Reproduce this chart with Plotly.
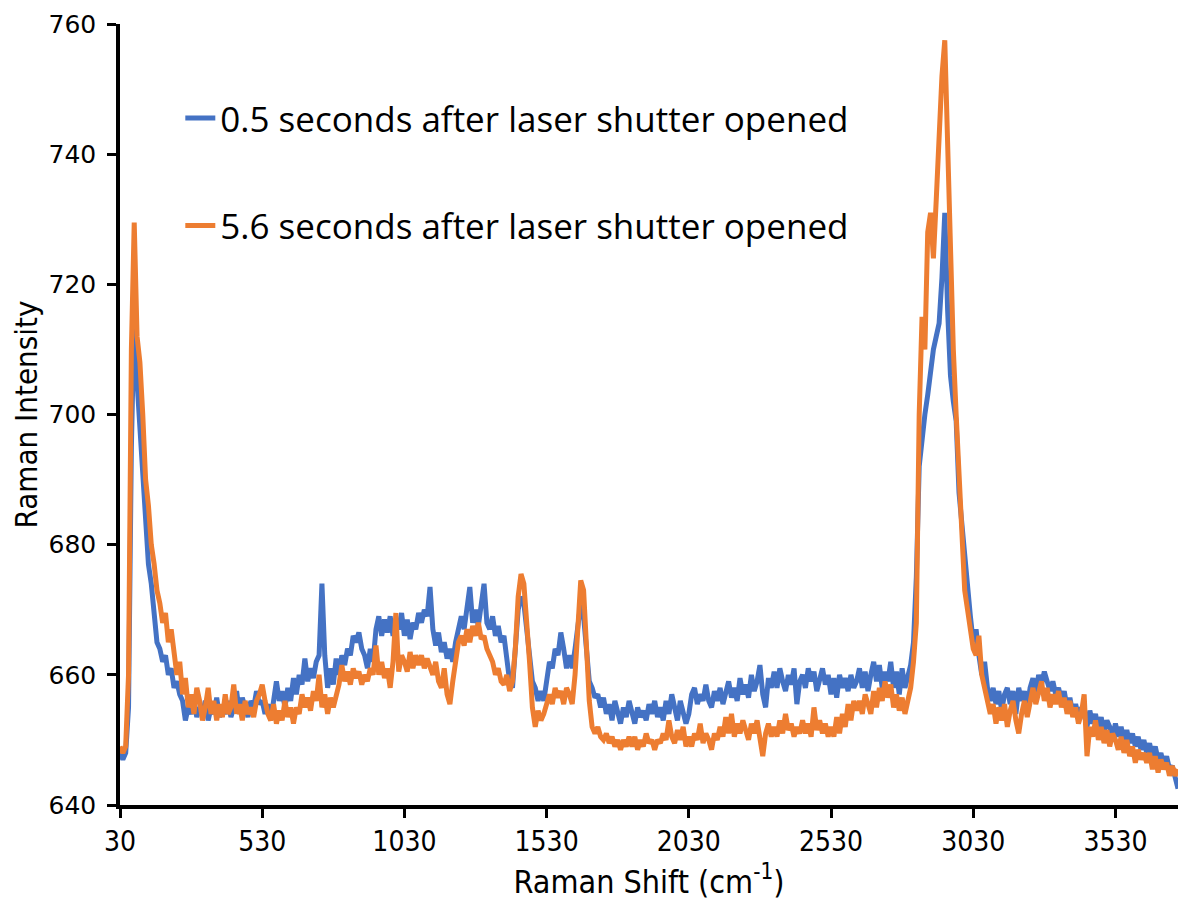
import plotly.graph_objects as go

# Raman shift sampling grid (cm-1)
raman_shift = list(range(30, 3751, 10))

# 0.5 s after laser shutter opened
blue_intensity = [
    648, 647, 648, 655, 695, 715.5, 705, 698, 690, 684,
    677, 674, 669, 665, 664, 662, 663, 660, 661, 658,
    659, 657, 656, 653, 655, 654, 656, 653.5, 655, 654,
    656, 653, 655, 654, 656.5, 653.5, 655, 654, 656, 653.5,
    655, 657.5, 654, 656.5, 655, 653.5, 656, 655, 657.5, 655.5,
    656, 654, 655.5, 653, 656, 659, 656, 657.5, 655, 658,
    656, 659.5, 657, 660, 658.5, 662.5, 659, 661, 659.5, 662,
    663, 674, 663, 658, 661, 658.5, 662.5, 660, 663, 661.5,
    664, 663, 666, 665, 666.5, 664, 663, 661, 664, 662,
    667, 669, 666, 668.5, 666.5, 669, 666, 668, 667, 669.5,
    666, 668.5, 665.5, 668, 667, 669.5, 668, 670, 669, 673.5,
    667, 664.5, 666.5, 663.5, 665, 662.5, 664, 662, 665, 667,
    669, 667, 671, 673.5, 668, 670, 667.5, 671, 674, 668,
    667, 669, 666, 667.5, 665, 666, 662, 659, 658, 663,
    670, 672, 671, 667, 662, 659, 658, 656, 657.5, 656,
    659, 662, 661, 664, 663, 666.5, 664, 661, 663, 661,
    664, 668, 671, 669, 663, 659, 658, 656.5, 657, 655,
    656.5, 654, 655.5, 653, 656, 654, 652.5, 655, 653.5, 656,
    654, 652.5, 655, 653.5, 654.5, 653, 655.5, 654, 656, 653.5,
    655, 653, 656, 654, 657, 655, 653, 656, 654.5, 652.5,
    654, 657, 658, 655.5, 657, 656, 658.5, 656, 655, 657.5,
    656, 658, 655.5, 657, 659, 656.5, 658, 656, 659.5, 657,
    658.5, 656.5, 660, 657.5, 659, 661.5, 657, 655, 659.5, 658,
    660.5, 658, 661, 659, 657.5, 660, 658.5, 661, 655.5, 659,
    660, 658, 661, 659, 660.5, 657.5, 659, 661, 658.5, 660,
    657, 659.5, 656.5, 660, 658, 659.5, 657.5, 660, 658, 659,
    661, 658, 660.5, 657.5, 660, 662, 659, 661.5, 658, 660.5,
    659, 662, 658, 660.5, 657, 661, 658, 660, 661.5, 665,
    675, 692, 697, 700, 703, 707, 710, 712, 714, 721,
    731, 716, 706, 702, 699, 688, 683, 678, 672, 669,
    665, 667, 663, 660, 662, 658, 656, 658, 655.5, 657.5,
    654.5, 657, 658, 655.5, 657.5, 654, 658, 656, 657.5, 655,
    658, 659.5, 657, 660, 658.5, 660.5, 659, 657.5, 659, 657,
    658, 656, 657.5, 655, 656.5, 654, 655.5, 653.5, 655, 654,
    652, 654.5, 652.5, 654, 651.5, 653.5, 651, 653, 652, 650.5,
    652.5, 650.5, 652, 650, 651.5, 649.5, 651, 649, 650.5, 648.5,
    650, 648, 649.5, 647.5, 649, 647, 648, 646, 647.5, 645.5,
    646, 644, 642.5,
]

# 5.6 s after laser shutter opened
orange_intensity = [
    649, 648, 649, 660, 710, 729.5, 712, 708, 700, 690,
    686, 680, 677, 673, 671, 668, 669.5, 665, 667, 663,
    660, 662, 657, 659.5, 655, 657, 654, 658, 656, 653,
    655, 658, 654, 656, 653, 655.5, 653.5, 657, 654, 655,
    658.5, 654, 655.5, 653, 656, 654, 655, 653.5, 656, 657,
    658.5, 656, 654, 653, 655.5, 652.5, 654.5, 653, 656, 653.5,
    655, 652.5, 655, 654, 657, 655, 656.5, 654.5, 657.5, 656,
    660, 655, 657, 654, 656.5, 655, 657, 658.5, 661.5, 659,
    660.5, 658.5, 661, 659.5, 660.5, 658.5, 660, 659, 661, 660,
    664.5, 660, 662, 659.5, 661, 658, 662, 669.5, 660.5, 663,
    662, 660.5, 663.5, 661, 663, 661.5, 663, 661, 662.5, 661,
    660, 662, 659, 658, 661, 657, 655.5, 659, 662, 665,
    666, 664.5, 667, 665, 667.5, 666, 668, 665.5, 666, 664,
    663, 662, 660, 661, 659, 658.5, 660, 657.5, 659, 664,
    672, 675.5, 674, 669, 662, 655, 652, 654.5, 653, 654,
    655.5, 657, 655.5, 658, 656.5, 657.5, 655.5, 658, 657, 655.5,
    660, 669, 674.5, 673, 665, 656, 652, 651, 652, 650.5,
    650, 651, 649.5, 650.5, 649, 650, 648.5, 650, 649, 650.5,
    649, 650.5, 648.5, 650, 649, 651, 649.5, 650, 648.5, 650,
    649.5, 651, 650, 653, 650.5, 649.5, 651.5, 650, 652, 649,
    650.5, 649, 651, 650, 652.5, 649.5, 651, 650, 648.5, 651,
    650, 652, 650.5, 653.5, 651, 654, 650.5, 652.5, 651, 653,
    651.5, 650, 652.5, 651, 653, 650, 647.5, 651, 652.5, 650.5,
    652, 650.5, 653, 651, 654, 651.5, 652.5, 650.5, 652, 651,
    653, 651, 652.5, 650.5, 655, 651.5, 653, 651, 652.5, 650.5,
    652, 650.5, 653.5, 651, 654, 652, 655.5, 653, 656, 654.5,
    656, 654, 657, 655.5, 654, 657.5, 655, 658, 656, 659,
    656.5, 658.5, 655, 657, 654.5, 656.5, 654, 656, 658, 662,
    668, 700, 715, 710, 728, 731, 724, 733, 743, 752,
    757.5, 742, 722, 710, 700, 690, 680, 673, 670, 667,
    664, 663, 666, 660, 658, 656, 654, 655.5, 652.5, 655,
    653, 655.5, 652, 654.5, 656, 653, 651, 654, 656, 653.5,
    656, 658, 655.5, 657.5, 659, 656, 658, 655, 657, 655.5,
    657.5, 655, 656.5, 654, 656, 653.5, 655, 652.5, 654, 657,
    647.5, 652, 650.5, 653, 650, 652, 649.5, 651.5, 649, 651,
    650, 648.5, 650.5, 648, 650, 647.5, 649, 646.5, 648.5, 647,
    648, 646.5, 648, 645.5, 647.5, 645, 647, 645.5, 646.5, 644.5,
    646, 644.5, 645.5,
]

series_names = ["0.5 seconds after laser shutter opened",
                "5.6 seconds after laser shutter opened"]
series_colors = ["#4472C4", "#ED7D31"]

x_ticks = [30, 530, 1030, 1530, 2030, 2530, 3030, 3530]
y_ticks = [640, 660, 680, 700, 720, 740, 760]

narrow = "Liberation Sans Narrow, DejaVu Sans Condensed, sans-serif"

fig = go.Figure()
for name, color, vals, grp in zip(series_names, series_colors,
                                   [blue_intensity, orange_intensity], ["a", "b"]):
    fig.add_trace(go.Scatter(
        x=raman_shift[:len(vals)], y=vals, mode="lines", name=name,
        legendgroup=grp,
        line=dict(color=color, width=5),
    ))

fig.update_layout(
    width=1178, height=905,
    margin=dict(l=120, r=0, t=24, b=100),
    paper_bgcolor="white", plot_bgcolor="white",
    showlegend=True,
    legend=dict(
        x=0.057, y=0.917, xanchor="left", yanchor="top",
        font=dict(family="Open Sans, sans-serif", size=35, color="black"),
        bgcolor="rgba(0,0,0,0)", borderwidth=0,
        tracegroupgap=59, itemwidth=30,
    ),
    xaxis=dict(
        range=[30, 3750], tickvals=x_ticks, ticktext=[str(v) for v in x_ticks],
        showline=True, linecolor="black", linewidth=3.5, mirror=False,
        ticks="outside", ticklen=9, tickwidth=3, tickcolor="black",
        showgrid=False, zeroline=False,
        tickfont=dict(family=narrow, size=28, color="black"),
        title=dict(text="Raman Shift (cm<sup>-1</sup>)",
                   font=dict(family=narrow, size=32, color="black"),
                   standoff=14),
    ),
    yaxis=dict(
        range=[640, 760], tickvals=y_ticks,
        showline=True, linecolor="black", linewidth=3.5,
        ticks="outside", ticklen=9, tickwidth=3, tickcolor="black",
        ticklabelstandoff=6,
        showgrid=False, zeroline=False,
        tickfont=dict(family="DejaVu Sans, sans-serif", size=25, color="black"),
        title=dict(text="Raman Intensity",
                   font=dict(family=narrow, size=31, color="black"),
                   standoff=3),
    ),
)

fig.write_html("out.html")
